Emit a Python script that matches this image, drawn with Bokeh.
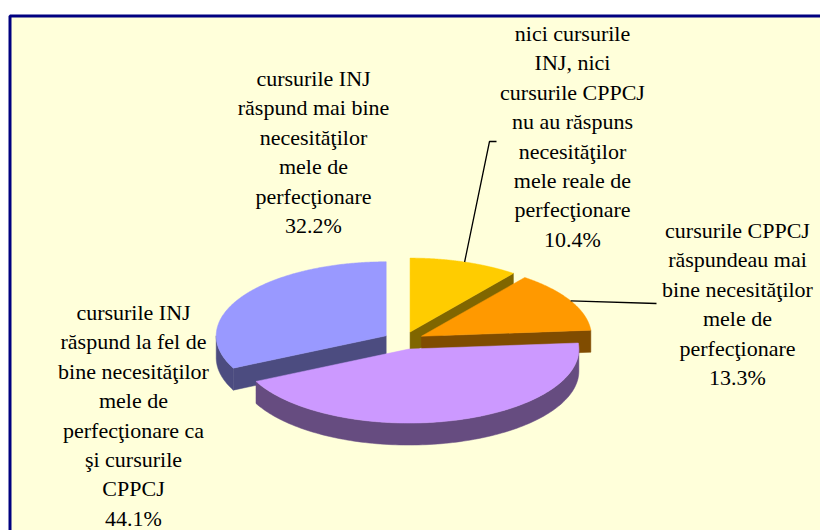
import numpy as np
from bokeh.plotting import figure
from bokeh.models import Range1d
from bokeh.embed import file_html
from bokeh.resources import INLINE
from bokeh.core.properties import value

# ---- data ----
categories = [
    "nici cursurile\nINJ, nici\ncursurile CPPCJ\nnu au răspuns\nnecesităţilor\nmele reale de\nperfecţionare",
    "cursurile CPPCJ\nrăspundeau mai\nbine necesităţilor\nmele de\nperfecţionare",
    "cursurile INJ\nrăspund la fel de\nbine necesităţilor\nmele de\nperfecţionare ca\nşi cursurile\nCPPCJ",
    "cursurile INJ\nrăspund mai bine\nnecesităţilor\nmele de\nperfecţionare",
]
shares = [10.4, 13.3, 44.1, 32.2]

# ---- styles / layout ----
top_colors = ["#FFCC00", "#FF9900", "#CC99FF", "#9999FF"]
side_colors = ["#806600", "#804C00", "#664C80", "#4C4C80"]
label_anchor = [(572, 33), (737, 230), (133, 312), (313, 78)]  # center x, first-line y
leader_end = [[(489, 141), (496, 141)], [(656, 303)], None, None]
line_step = 29.4
font = "Liberation Serif"

CX, CY = 403.0, 340.0
A, B, D = 170.0, 74.0, 22.0
EXPLODE = 0.12

W, H = 820, 530
p = figure(width=W, height=H, x_range=Range1d(0, W), y_range=Range1d(H, 0),
           output_backend="svg", toolbar_location=None,
           x_axis_location=None, y_axis_location=None, min_border=0)
p.xgrid.visible = False
p.ygrid.visible = False
p.outline_line_color = None

# chart area (background + border) as plain patches
p.patch([9.5, 840.0, 840.0, 9.5], [15.5, 15.5, 560.0, 560.0],
        fill_color="#FFFFDA", line_color="#000080", line_width=3)

# ---- 3D pie ----
def rim(cx, cy, th):
    return cx + A * np.sin(th), cy - B * np.cos(th)

bounds = np.concatenate([[0], np.cumsum(shares)]) / 100.0 * 2 * np.pi
slices = []
for i in range(len(shares)):
    t1, t2 = bounds[i], bounds[i + 1]
    tm = (t1 + t2) / 2
    cx = CX + EXPLODE * A * np.sin(tm)
    cy = CY - EXPLODE * B * np.cos(tm)
    slices.append((i, t1, t2, tm, cx, cy))

order = sorted(slices, key=lambda s: -np.cos(s[3]))
for (i, t1, t2, tm, cx, cy) in order:
    faces = []
    for th, visible in ((t1, np.sin(t1) < -1e-6), (t2, np.sin(t2) > 1e-6)):
        if visible:
            rx, ry = rim(cx, cy, th)
            faces.append(([float(cx), float(rx), float(rx), float(cx)],
                          [float(cy), float(ry), float(ry + D), float(cy + D)]))
    lo, hi = max(t1, np.pi / 2), min(t2, 3 * np.pi / 2)
    if hi > lo:
        th = np.linspace(lo, hi, 120)
        rx, ry = rim(cx, cy, th)
        faces.append(([float(v) for v in list(rx) + list(rx[::-1])],
                      [float(v) for v in list(ry) + list((ry + D)[::-1])]))
    for fx, fy in faces:
        p.patch(fx, fy, fill_color=side_colors[i], line_color=side_colors[i], line_width=0.5)
    th = np.linspace(t1, t2, 200)
    rx, ry = rim(cx, cy, th)
    p.patch([float(cx)] + [float(v) for v in rx], [float(cy)] + [float(v) for v in ry],
            fill_color=top_colors[i], line_color=top_colors[i], line_width=0.5)

# ---- leader lines (open paths traced forth and back) ----
for (i, t1, t2, tm, cx, cy) in slices:
    if leader_end[i]:
        sx, sy = rim(cx, cy, tm)
        pts = [(float(sx), float(sy))] + [(float(a), float(b)) for a, b in leader_end[i]]
        path = pts + pts[-2:0:-1]
        p.patch([q[0] for q in path], [q[1] for q in path], fill_color=None,
                line_color="black", line_width=1.3)

# ---- labels ----
for i, cat in enumerate(categories):
    lines = cat.split("\n") + [f"{shares[i]:.1f}%"]
    ax, ay = label_anchor[i]
    for k, ln in enumerate(lines):
        p.text(x=[float(ax)], y=[float(ay + k * line_step)], text=[ln],
               text_font=value(font), text_font_size="22px",
               text_baseline="middle", text_align="center", text_color="black")

html = file_html(p, INLINE)
open("out.html", "w").write(html)
